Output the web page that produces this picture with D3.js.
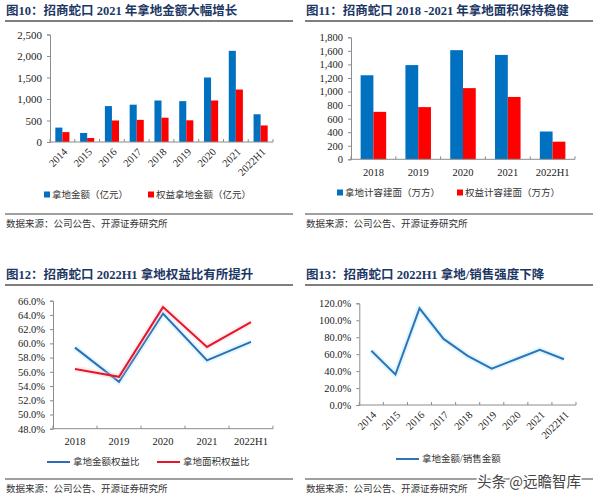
<!DOCTYPE html>
<html>
<head>
<meta charset="utf-8">
<script src="https://cdn.jsdelivr.net/npm/d3@7"></script>
<style>
  body { margin: 0; background: #fff; }
  svg { display: block; }
  .num { font-family: "Liberation Serif", "Times New Roman", serif; }
  .cjk { font-family: "Liberation Serif", "Noto Sans CJK SC", serif; }
</style>
</head>
<body>
<svg id="chart" width="600" height="502"></svg>
<script>
// ---- data ----
var years9 = ["2014", "2015", "2016", "2017", "2018", "2019", "2020", "2021", "2022H1"]
var landAmount = [335, 210, 835, 868, 965, 950, 1500, 2120, 645]        // 拿地金额（亿元）
var equityLandAmount = [230, 93, 500, 515, 565, 505, 965, 1220, 385]    // 权益拿地金额（亿元）

var years5 = ["2018", "2019", "2020", "2021", "2022H1"]
var landArea = [1240, 1390, 1610, 1540, 410]       // 拿地计容建面（万方）
var equityLandArea = [700, 770, 1050, 920, 260]    // 权益计容建面（万方）

var amountEquityRatio = [59.4, 54.6, 64.2, 57.6, 60.2]  // 拿地金额权益比 %
var areaEquityRatio = [56.4, 55.3, 65.1, 59.5, 63.0]    // 拿地面积权益比 %

var landToSales = [64, 36, 114, 78, 58, 43, 54, 65, 54] // 拿地金额/销售金额 %

var ticks1 = [0, 500, 1000, 1500, 2000, 2500]
var ticks2 = [0, 200, 400, 600, 800, 1000, 1200, 1400, 1600, 1800]
var ticks3 = [48, 50, 52, 54, 56, 58, 60, 62, 64, 66]
var ticks4 = [0, 20, 40, 60, 80, 100, 120]

var BLUE = "#0070C0", RED = "#FF0000"
var titleColor = "#1C3764"
var axisColor = "#8c8c8c"
var fmtComma = d3.format(",")
var fmtPct = function(d) { return d.toFixed(1) + "%" }

var svg = d3.select("#chart")

// ---- shared pieces ----
function frame(x0, yTitle, yTitleLine, yFootLine, num, title) {
  var t = svg.append("text").attr("class", "cjk")
    .attr("x", x0 + 1).attr("y", yTitle)
    .style("font-size", "12.5px").style("font-weight", "bold").attr("fill", titleColor)
  t.text("图" + num + "：" + title)
  svg.append("line").attr("x1", x0).attr("x2", x0 + 288)
    .attr("y1", yTitleLine).attr("y2", yTitleLine)
    .attr("stroke", "#7f7f7f").attr("stroke-width", 2)
  svg.append("line").attr("x1", x0).attr("x2", x0 + 288)
    .attr("y1", yFootLine).attr("y2", yFootLine)
    .attr("stroke", "#7f7f7f").attr("stroke-width", 1.5)
  svg.append("text").attr("class", "cjk")
    .attr("x", x0 + 1).attr("y", yFootLine + 13)
    .style("font-size", "9.5px").attr("fill", "#333")
    .text("数据来源：公司公告、开源证券研究所")
}

function yAxis(y, x0, ticks, fmt, size) {
  var g = svg.append("g").attr("transform", "translate(" + x0 + ",0)")
    .call(d3.axisLeft(y).tickValues(ticks).tickFormat(fmt).tickSizeOuter(0).tickSize(3).tickPadding(5))
  g.select(".domain").attr("stroke", axisColor)
  g.selectAll(".tick line").attr("stroke", axisColor)
  g.selectAll("text").attr("class", "num").style("font-size", size).attr("fill", "#222")
  return g
}

function xAxisLine(L, R, y0, n) {
  svg.append("line").attr("x1", L).attr("x2", R).attr("y1", y0).attr("y2", y0)
    .attr("stroke", axisColor)
  var step = (R - L) / n
  d3.range(n + 1).forEach(function(i) {
    svg.append("line").attr("x1", L + i * step).attr("x2", L + i * step)
      .attr("y1", y0).attr("y2", y0 - 3).attr("stroke", axisColor)
  })
}

function rotatedLabels(cats, xPos, y0) {
  svg.append("g").selectAll("text").data(cats).enter().append("text")
    .attr("class", "num")
    .attr("transform", function(d) { return "translate(" + (xPos(d) + 3) + "," + (y0 + 8) + ") rotate(-45)" })
    .attr("text-anchor", "end").attr("dy", "0.35em")
    .style("font-size", "10.5px").attr("fill", "#222")
    .text(function(d) { return d })
}

function flatLabels(cats, xPos, y) {
  svg.append("g").selectAll("text").data(cats).enter().append("text")
    .attr("class", "num")
    .attr("x", function(d) { return xPos(d) }).attr("y", y)
    .attr("text-anchor", "middle").attr("dy", "0.35em")
    .style("font-size", "10.5px").attr("fill", "#222")
    .text(function(d) { return d })
}

function legendBox(x, y, color, label) {
  svg.append("rect").attr("x", x).attr("y", y - 3.5).attr("width", 6).attr("height", 6).attr("fill", color)
  svg.append("text").attr("class", "cjk").attr("x", x + 8).attr("y", y).attr("dy", "0.35em")
    .style("font-size", "9.5px").attr("fill", "#333").text(label)
}

function legendLine(x, y, color, label) {
  svg.append("line").attr("x1", x).attr("x2", x + 23).attr("y1", y).attr("y2", y)
    .attr("stroke", color).attr("stroke-width", 2)
  svg.append("text").attr("class", "cjk").attr("x", x + 26).attr("y", y).attr("dy", "0.35em")
    .style("font-size", "9.5px").attr("fill", "#333").text(label)
}

function barPanel(cats, s1, s2, L, R, y0, yTop, maxV, ticks, tickSize) {
  var x = d3.scaleBand().domain(cats).range([L, R]).paddingInner(0.43).paddingOuter(0.215)
  var sub = d3.scaleBand().domain([0, 1]).range([0, x.bandwidth()])
  var y = d3.scaleLinear().domain([0, maxV]).range([y0, yTop])
  yAxis(y, L, ticks, fmtComma, tickSize)
  var rows = cats.map(function(c, i) { return { cat: c, v: [s1[i], s2[i]] } })
  var colors = [BLUE, RED]
  ;[0, 1].forEach(function(k) {
    svg.append("g").selectAll("rect").data(rows).enter().append("rect")
      .attr("x", function(d) { return x(d.cat) + sub(k) })
      .attr("width", sub.bandwidth())
      .attr("y", function(d) { return y(d.v[k]) })
      .attr("height", function(d) { return y0 - y(d.v[k]) })
      .attr("fill", colors[k])
  })
  xAxisLine(L, R, y0, cats.length)
  return function(c) { return x(c) + x.bandwidth() / 2 }
}

function linePanel(cats, series, colors, glows, L, R, y, y0) {
  var x = d3.scalePoint().domain(cats).range([L, R]).padding(0.5)
  xAxisLine(L, R, y0, cats.length)
  series.forEach(function(s, k) {
    var line = d3.line().x(function(d, i) { return x(cats[i]) }).y(function(d) { return y(d) })
    svg.append("path").datum(s).attr("d", line).attr("fill", "none")
      .attr("stroke", glows[k]).attr("stroke-width", 6).attr("stroke-opacity", 0.3)
      .attr("stroke-linejoin", "round")
    svg.append("path").datum(s).attr("d", line).attr("fill", "none")
      .attr("stroke", colors[k]).attr("stroke-width", 2)
  })
  return x
}

// ---- 图10 ----
frame(5, 15, 21, 214, "10", "招商蛇口 2021 年拿地金额大幅增长")
var c1 = barPanel(years9, landAmount, equityLandAmount, 50, 273, 142, 34.5, 2500, ticks1, "11px")
rotatedLabels(years9, c1, 142)
legendBox(44, 195, BLUE, "拿地金额（亿元）")
legendBox(148, 195, RED, "权益拿地金额（亿元）")

// ---- 图11 ----
frame(305, 15, 21, 214, "11", "招商蛇口 2018 -2021 年拿地面积保持稳健")
var c2 = barPanel(years5, landArea, equityLandArea, 351, 575, 159.3, 37.3, 1800, ticks2, "10.5px")
flatLabels(years5, c2, 172)
legendBox(337, 193, BLUE, "拿地计容建面（万方）")
legendBox(457, 193, RED, "权益计容建面（万方）")

// ---- 图12 ----
frame(5, 279, 285, 479, "12", "招商蛇口 2022H1 拿地权益比有所提升")
var y3 = d3.scaleLinear().domain([48, 66]).range([428.7, 300.7])
yAxis(y3, 53, ticks3, fmtPct, "10.5px")
var x3 = linePanel(years5, [amountEquityRatio, areaEquityRatio], ["#2E6DB4", "#E3172E"],
  ["#9fe3ff", "#ffc8c8"], 53, 273, y3, 428.7)
flatLabels(years5, function(d) { return x3(d) }, 441)
legendLine(47, 462, "#2E6DB4", "拿地金额权益比")
legendLine(157, 462, "#E3172E", "拿地面积权益比")

// ---- 图13 ----
frame(305, 279, 285, 479, "13", "招商蛇口 2022H1 拿地/销售强度下降")
var y4 = d3.scaleLinear().domain([0, 120]).range([405, 303.3])
yAxis(y4, 359.3, ticks4, fmtPct, "10.5px")
var x4 = linePanel(years9, [landToSales], ["#2E75B6"], ["#9fe3ff"], 359.3, 576, y4, 405)
rotatedLabels(years9, function(d) { return x4(d) }, 405)
legendLine(396, 459, "#2E75B6", "拿地金额/销售金额")

// watermark
svg.append("text").attr("x", 477).attr("y", 487)
  .style("font-family", "Noto Sans CJK SC").style("font-size", "14.5px")
  .attr("fill", "#444").attr("stroke", "#fff").attr("stroke-width", 3).attr("paint-order", "stroke")
  .text("头条 @远瞻智库")
</script>
</body>
</html>
